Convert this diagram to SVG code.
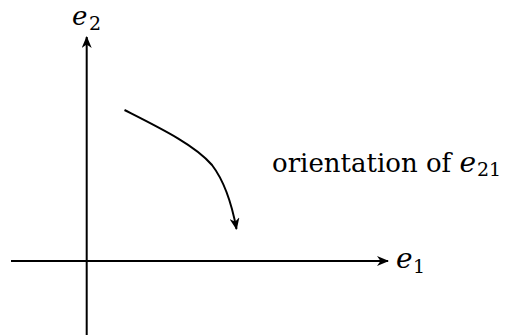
<svg xmlns="http://www.w3.org/2000/svg" width="508" height="335" viewBox="0 0 508 335">
<style>
.ln{stroke:#000;stroke-width:2;fill:none}
.t{font-family:"DejaVu Serif","Liberation Serif",serif;fill:#000}
.m{font-style:italic;font-size:28px}
.s{font-size:19px}
.r{font-size:26px}
</style>
<defs>
<marker id="ah" viewBox="0 0 12 10" refX="11" refY="5" markerWidth="12" markerHeight="10" markerUnits="userSpaceOnUse" orient="auto">
<path d="M0,0 L12,5 L0,10 L3.5,5 Z" fill="#000"/>
</marker>
</defs>
<rect width="508" height="335" fill="#fff"/>
<g id="connectors">
<path class="ln" d="M11,261 H388" marker-end="url(#ah)"/>
<path class="ln" d="M86.7,335 V37" marker-end="url(#ah)"/>
<path class="ln" d="M124.5,110 C160,128 195,145 212,165 C225,182 232,205 236.5,229" marker-end="url(#ah)"/>
</g>
<g id="label-e1">
<text class="t m" x="396" y="268">e</text>
<text class="t s" x="413" y="273">1</text>
</g>
<g id="label-e2">
<text class="t m" x="72" y="25" style="font-size:26px">e</text>
<text class="t s" x="89" y="30">2</text>
</g>
<g id="label-orientation">
<text class="t r" x="272" y="172">orientation of <tspan class="m">e</tspan><tspan class="s" dx="1" dy="4">21</tspan></text>
</g>
</svg>
